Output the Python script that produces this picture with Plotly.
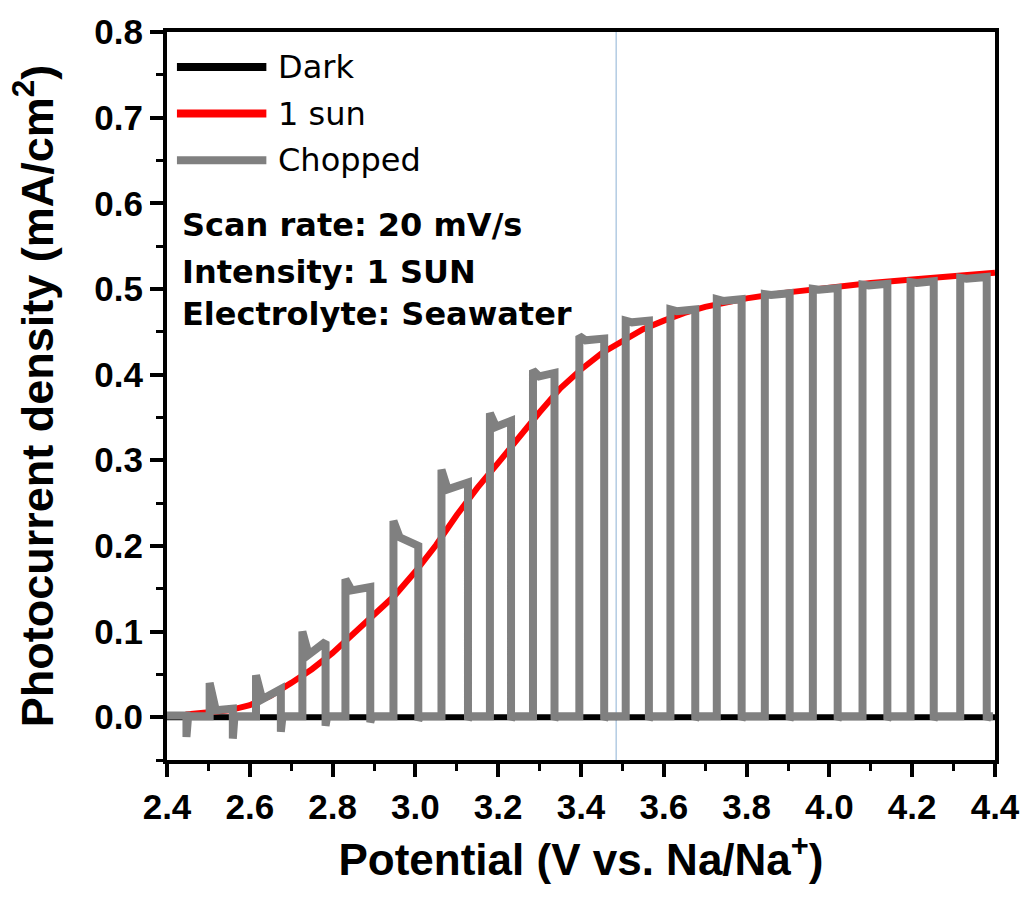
import plotly.graph_objects as go

# ---------------- data ----------------
dark_v = [2.40, 4.40]
dark_j = [0.0, 0.0]

sun_v = [2.445, 2.50, 2.55, 2.60, 2.65, 2.70, 2.75, 2.80, 2.85, 2.90, 2.95, 3.00,
         3.05, 3.10, 3.15, 3.20, 3.25, 3.30, 3.35, 3.40, 3.45, 3.50, 3.55, 3.60,
         3.65, 3.70, 3.80, 3.90, 4.00, 4.10, 4.20, 4.30, 4.40]
sun_j = [0.003, 0.005, 0.008, 0.014, 0.025, 0.040, 0.056, 0.075, 0.097, 0.118, 0.142, 0.170,
         0.201, 0.236, 0.268, 0.297, 0.327, 0.356, 0.384, 0.406, 0.425, 0.440, 0.453, 0.463,
         0.472, 0.479, 0.489, 0.496, 0.502, 0.507, 0.511, 0.515, 0.519]

# chopped light: light-off (fall) and light-on (rise) potentials
chop_start = 2.40
chop_end = 4.395
chop_first_level = 0.002
chop_off_level = 0.001
chop_falls = [2.447, 2.559, 2.675, 2.783, 2.891, 3.007, 3.127, 3.231, 3.336, 3.456,
              3.564, 3.676, 3.788, 3.904, 4.020, 4.140, 4.252, 4.380]
chop_fall_dip = [-0.023, -0.025, -0.017, -0.010, -0.006, -0.004, -0.003, -0.003, -0.003, -0.003,
                 -0.003, -0.003, -0.003, -0.003, -0.003, -0.003, -0.003, -0.003]
chop_rises = [2.503, 2.615, 2.727, 2.831, 2.947, 3.063, 3.180, 3.284, 3.396, 3.508,
              3.616, 3.728, 3.844, 3.960, 4.080, 4.196, 4.316]
chop_spike = [0.040, 0.049, 0.100, 0.161, 0.229, 0.289, 0.355, 0.405, 0.445, 0.463,
              0.476, 0.488, 0.494, 0.500, 0.505, 0.508, 0.513]
chop_settle = [0.008, 0.021, 0.073, 0.148, 0.210, 0.266, 0.339, 0.398, 0.440, 0.461,
               0.474, 0.486, 0.493, 0.499, 0.504, 0.507, 0.512]
chop_plateau_end = [0.010, 0.033, 0.088, 0.152, 0.200, 0.274, 0.346, 0.402, 0.442, 0.463,
                    0.476, 0.488, 0.495, 0.501, 0.506, 0.509, 0.514]
spike_decay = 0.015
dip_recover = 0.004

marker_potential = 3.485

x_ticks = [2.4, 2.6, 2.8, 3.0, 3.2, 3.4, 3.6, 3.8, 4.0, 4.2, 4.4]
y_ticks = [0.0, 0.1, 0.2, 0.3, 0.4, 0.5, 0.6, 0.7, 0.8]

# ---------------- build chopped polyline ----------------
cv = [chop_start, chop_falls[0]]
cj = [chop_first_level, chop_first_level]
for k, r in enumerate(chop_rises):
    f = chop_falls[k]
    cv += [f, f + dip_recover, r, r, r + spike_decay, chop_falls[k + 1]]
    cj += [chop_fall_dip[k], chop_off_level, chop_off_level,
           chop_spike[k], chop_settle[k], chop_plateau_end[k]]
f = chop_falls[-1]
cv += [f, f + dip_recover, chop_end]
cj += [chop_fall_dip[-1], chop_off_level, chop_off_level]

fig = go.Figure()
fig.add_trace(go.Scatter(x=dark_v, y=dark_j, mode="lines", name="Dark",
                         line=dict(color="black", width=6), showlegend=False))
fig.add_trace(go.Scatter(x=sun_v, y=sun_j, mode="lines", name="1 sun",
                         line=dict(color="#ff0000", width=6), showlegend=False))
fig.add_trace(go.Scatter(x=cv, y=cj, mode="lines", name="Chopped",
                         line=dict(color="#808080", width=8), showlegend=False))

fig.add_shape(type="line", x0=marker_potential, x1=marker_potential, xref="x",
              y0=0, y1=1, yref="paper", line=dict(color="#b3cbe3", width=1.5), layer="below")

# manual legend
legend_items = [("Dark", "black"), ("1 sun", "#ff0000"), ("Chopped", "#808080")]
legend_y = [0.952, 0.888, 0.824]
for (name, col), yy in zip(legend_items, legend_y):
    fig.add_shape(type="line", xref="paper", yref="paper", x0=0.012, x1=0.120, y0=yy, y1=yy,
                  line=dict(color=col, width=8))
    fig.add_annotation(xref="paper", yref="paper", x=0.132, y=yy, text=name, showarrow=False,
                       xanchor="left", yanchor="middle",
                       font=dict(family="DejaVu Sans", size=32, color="black"))

notes = ["Scan rate: 20 mV/s", "Intensity: 1 SUN", "Electrolyte: Seawater"]
note_y = [0.735, 0.671, 0.6125]
for t, yy in zip(notes, note_y):
    fig.add_annotation(xref="paper", yref="paper", x=0.0156, y=yy, text=t, showarrow=False,
                       xanchor="left", yanchor="middle",
                       font=dict(family="DejaVu Sans", size=32, color="black", weight="bold"))

tickfont = dict(family="Liberation Sans, Arial", size=35, color="black", weight="bold")
titlefont = dict(family="Liberation Sans, Arial", color="black", weight="bold")

fig.update_xaxes(range=[2.4, 4.4], tickvals=x_ticks, ticktext=[f"{v:.1f}" for v in x_ticks],
                 showline=True, linewidth=4, linecolor="black", mirror=True,
                 ticks="outside", ticklen=13, tickwidth=4, tickcolor="black",
                 minor=dict(dtick=0.1, ticks="outside", ticklen=7, tickwidth=3, tickcolor="black"),
                 showgrid=False, zeroline=False, tickfont=tickfont,
                 title=dict(text="Potential (V vs. Na/Na<sup>+</sup>)",
                            font=dict(size=44, **titlefont), standoff=20))
fig.update_yaxes(range=[-0.05, 0.8], tickvals=y_ticks, ticktext=[f"{v:.1f}" for v in y_ticks],
                 showline=True, linewidth=4, linecolor="black", mirror=True,
                 ticks="outside", ticklen=13, tickwidth=4, tickcolor="black",
                 minor=dict(dtick=0.05, ticks="outside", ticklen=7, tickwidth=3, tickcolor="black"),
                 showgrid=False, zeroline=False, tickfont=tickfont,
                 title=dict(text="Photocurrent density (mA/cm<sup>2</sup>)",
                            font=dict(size=45, **titlefont), standoff=28))

fig.update_layout(width=1032, height=899, margin=dict(l=167, r=32, t=27, b=139),
                  paper_bgcolor="white", plot_bgcolor="white", showlegend=False)

fig.write_html("out.html")
